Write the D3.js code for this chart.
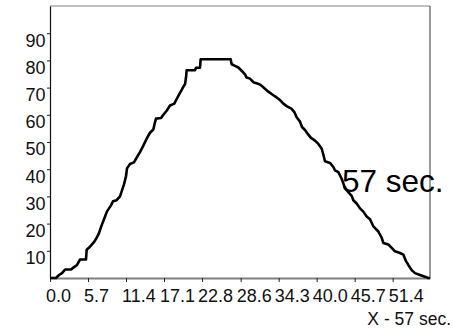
<!DOCTYPE html>
<html>
<head>
<meta charset="utf-8">
<script src="https://cdn.jsdelivr.net/npm/d3@7"></script>
<style>
  html, body { margin: 0; padding: 0; background: #fff; }
  svg { display: block; font-family: "Liberation Sans", Arial, sans-serif; }
</style>
</head>
<body>
<svg id="chart" width="453" height="329"></svg>
<script>
// Elapsed time (seconds) and the level recorded at that time
const times = [
  0, 0.9, 1.35, 1.8, 2.25, 3.15, 3.6, 4.05, 4.5, 5.4, 5.5, 6.0, 6.6, 7.05, 7.35, 7.65,
  8.1, 8.55, 9.15, 9.45, 10.0, 10.5, 10.8, 11.1, 11.4, 11.55, 12.0, 12.6, 12.75, 13.2,
  13.5, 14.0, 14.5, 15.0, 15.5, 15.75, 15.9, 16.65, 17.0, 17.5, 18.0, 18.65, 19.0, 19.5,
  20.0, 20.25, 20.4, 20.5, 21.75, 21.9, 22.5, 22.6, 27.1, 27.25, 27.75, 28.25, 28.75,
  29.25, 29.5, 30.0, 30.5, 31.2, 31.5, 32.0, 32.75, 33.5, 34.0, 34.5, 35.0, 35.5, 36.25,
  36.65, 37.0, 37.5, 37.8, 38.25, 38.75, 39.15, 39.75, 40.25, 40.75, 41.0, 41.25, 42.0,
  42.5, 42.75, 43.25, 43.75, 44.0, 44.25, 44.75, 45.25, 45.5, 46.0, 46.5, 47.0, 47.5,
  48.0, 48.5, 49.25, 49.75, 50.0, 50.75, 51.25, 51.75, 52.5, 53.0, 53.4, 53.75, 54.25,
  54.75, 55.5, 56.25, 56.75, 57
];
const levels = [
  0, 0, 1.1, 1.8, 3.1, 3.1, 4.0, 4.8, 6.8, 6.8, 10.4, 11.5, 13.2, 15.0, 16.5, 18.7,
  21.6, 24.5, 26.7, 28.2, 28.6, 30.0, 32.2, 34.4, 37.4, 40.3, 41.9, 42.5, 43.2, 45.1,
  46.3, 48.7, 51.2, 53.4, 54.6, 57.3, 58.6, 58.8, 60.0, 61.5, 63.4, 64.1, 65.8, 68.1,
  70.3, 71.2, 73.7, 76.4, 76.4, 77.3, 77.3, 80.4, 80.4, 78.6, 78.0, 77.4, 76.2,
  74.9, 73.7, 73.3, 72.0, 71.4, 71.1, 70.1, 68.5, 67.2, 66.4, 65.4, 64.1, 63.2, 62.2,
  61.0, 59.1, 57.5, 55.5, 54.4, 52.7, 51.5, 50.5, 49.3, 47.6, 45.4, 42.9, 42.3,
  40.8, 39.6, 38.9, 36.5, 34.8, 33.0, 31.6, 30.2, 28.6, 27.4, 25.6, 24.4, 22.6,
  21.6, 19.0, 17.1, 14.8, 12.9, 12.3, 11.1, 9.8, 9.2, 8.6, 6.2, 4.8, 2.9,
  1.8, 1.1, 0.5, 0, 0
];

const xTickLabels = ["0.0", "5.7", "11.4", "17.1", "22.8", "28.6", "34.3", "40.0", "45.7", "51.4"];
const yTickValues = [10, 20, 30, 40, 50, 60, 70, 80, 90];
const xTitle = "X - 57 sec.";
const noteText = "57 sec.";

const svg = d3.select("#chart");
const plotLeft = 50, plotRight = 430, plotTop = 6, plotBottom = 278;

const x = d3.scaleLinear().domain([0, 57]).range([plotLeft, plotRight]);
const y = d3.scaleLinear().domain([0, 100]).range([plotBottom, plotTop]);

// Plot frame
svg.append("line").attr("x1", plotLeft).attr("x2", plotRight).attr("y1", plotTop).attr("y2", plotTop)
  .attr("stroke", "#808080").attr("stroke-width", 1.2);
svg.append("line").attr("x1", plotRight).attr("x2", plotRight).attr("y1", plotTop).attr("y2", plotBottom)
  .attr("stroke", "#555").attr("stroke-width", 1.2);

// X axis
const xAxis = svg.append("g").attr("transform", `translate(0,${plotBottom})`)
  .call(d3.axisBottom(x)
    .tickValues(xTickLabels.map(Number))
    .tickSize(4)
    .tickSizeOuter(0)
    .tickFormat((d, i) => xTickLabels[i]));
xAxis.select(".domain").attr("stroke", "#808080").attr("stroke-width", 2);
xAxis.selectAll(".tick line").attr("stroke", "#222").attr("stroke-width", 1);
xAxis.selectAll(".tick text")
  .attr("font-family", "Liberation Sans, Arial, sans-serif")
  .attr("font-size", 18).attr("fill", "#111")
  .attr("text-anchor", "start").attr("x", -4.5).attr("dy", null).attr("y", 23.5);

// Y axis
const yAxis = svg.append("g").attr("transform", `translate(${plotLeft},0)`)
  .call(d3.axisLeft(y)
    .tickValues(yTickValues)
    .tickSize(3)
    .tickSizeOuter(0));
yAxis.select(".domain").attr("stroke", "#111").attr("stroke-width", 1.2);
yAxis.selectAll(".tick line").attr("stroke", "#222").attr("stroke-width", 1);
yAxis.selectAll(".tick text")
  .attr("font-family", "Liberation Sans, Arial, sans-serif")
  .attr("font-size", 18).attr("fill", "#111")
  .attr("x", -4.5).attr("dy", null).attr("y", 12.8);

// Level curve
const pts = times.map((t, i) => [t, levels[i]]);
svg.append("path")
  .datum(pts)
  .attr("fill", "none")
  .attr("stroke", "#000")
  .attr("stroke-width", 2.6)
  .attr("stroke-linejoin", "round")
  .attr("d", d3.line().x(d => x(d[0])).y(d => y(d[1])));

// Annotation inside the plot
svg.append("text")
  .attr("x", 342).attr("y", 191.5)
  .attr("font-size", 31.5).attr("fill", "#000")
  .text(noteText);

// Axis title
svg.append("text")
  .attr("x", 451).attr("y", 325)
  .attr("text-anchor", "end")
  .attr("font-size", 17.5).attr("fill", "#111")
  .text(xTitle);
</script>
</body>
</html>
